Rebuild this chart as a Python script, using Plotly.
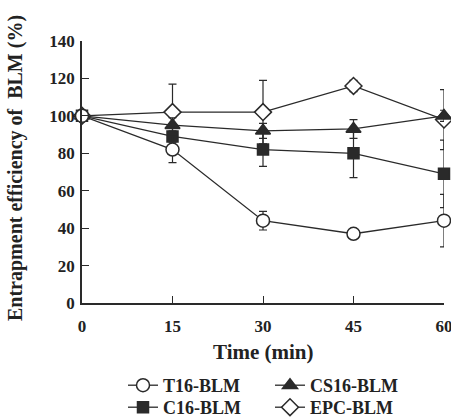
import plotly.graph_objects as go

time = [0, 15, 30, 45, 60]
t16 = [100, 82, 44, 37, 44]
t16_err = [0, 7, 5, 2, 14]
c16 = [100, 89, 82, 80, 69]
c16_err = [0, 3, 9, 13, 18]
cs16 = [100, 95, 92, 93, 100]
cs16_err = [0, 4, 4, 5, 3]
epc = [100, 102, 102, 116, 98]
epc_err = [0, 15, 17, 3, 16]

INK = "#2a2a2a"
FONT = "Liberation Serif"

def trace(name, y, err, symbol, fill, size, legend):
    return go.Scatter(
        x=time, y=y, name=name, mode="lines+markers",
        line=dict(color=INK, width=1.3),
        marker=dict(symbol=symbol, size=size, color=fill,
                    line=dict(color=INK, width=1.5)),
        error_y=dict(type="data", array=err, visible=True, color=INK,
                     thickness=1.2, width=4),
        cliponaxis=False, legend=legend,
    )

fig = go.Figure()
fig.add_trace(trace("EPC-BLM", epc, epc_err, "diamond", "white", 13, "legend4"))
fig.add_trace(trace("CS16-BLM", cs16, cs16_err, "triangle-up", INK, 13, "legend2"))
fig.add_trace(trace("C16-BLM", c16, c16_err, "square", INK, 11, "legend3"))
fig.add_trace(trace("T16-BLM", t16, t16_err, "circle", "white", 13, "legend"))

axis_common = dict(showline=True, linecolor=INK, linewidth=1.5, ticks="inside",
                   ticklen=7, tickwidth=1.3, tickcolor=INK, showgrid=False,
                   zeroline=False, ticklabeloverflow="allow",
                   tickfont=dict(family=FONT, size=17, color="#222", weight="bold"))

L, T, PW, PH = 82, 41, 362, 262

legend_font = dict(family=FONT, size=18, color="#222", weight="bold")

def leg(px_x, px_top):
    return dict(x=(px_x - L) / PW, y=(T + PH - px_top) / PH, xanchor="left",
                yanchor="top", orientation="v", font=legend_font,
                bgcolor="rgba(0,0,0,0)")

fig.update_layout(
    width=451, height=418,
    margin=dict(l=L, r=451 - L - PW, t=T, b=418 - T - PH, autoexpand=False),
    paper_bgcolor="white", plot_bgcolor="white",
    showlegend=True,
    xaxis=dict(range=[0, 60], tickvals=[0, 15, 30, 45, 60],
               ticklabelstandoff=7, **axis_common),
    yaxis=dict(range=[0, 140], tickvals=[0, 20, 40, 60, 80, 100, 120, 140],
               ticklabelstandoff=2, **axis_common),
    legend=leg(123, 367),
    legend2=leg(270, 367),
    legend3=leg(123, 389),
    legend4=leg(270, 389),
    annotations=[
        dict(text="<b>Time (min)</b>", x=30, xref="x",
             y=(T + PH - 352) / PH, yref="paper",
             showarrow=False, xanchor="center", yanchor="middle",
             font=dict(family=FONT, size=21, color="#222")),
        dict(text="<b>Entrapment efficiency of  BLM (%)</b>",
             x=(15 - L) / PW, xref="paper", y=(T + PH - 168) / PH, yref="paper",
             textangle=-90, showarrow=False, xanchor="center", yanchor="middle",
             font=dict(family=FONT, size=20, color="#222")),
    ],
)

fig.write_html("out.html", config={"displayModeBar": False},
               post_script="document.body.style.margin='0';")
